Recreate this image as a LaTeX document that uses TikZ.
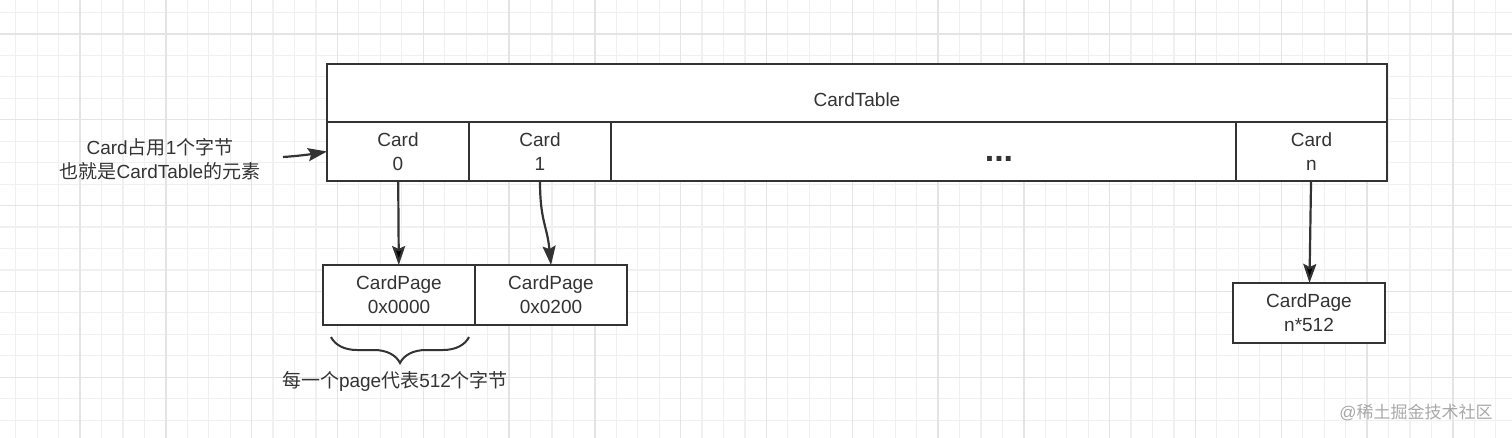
\documentclass[tikz,border=0pt]{standalone}
\usepackage{fontspec}
\setmainfont{Liberation Sans}
\newfontfamily\cjk{Noto Sans CJK SC}
\usetikzlibrary{arrows.meta, positioning, decorations.pathreplacing}

\definecolor{ink}{HTML}{333333}
\definecolor{gridminor}{HTML}{F0F0F0}
\definecolor{gridmajor}{HTML}{E4E4E4}
\definecolor{wmgray}{HTML}{A8A8A8}
\newcommand{\zh}[1]{{\cjk #1}}

\begin{document}
\begin{tikzpicture} [%
    x = 1pt, y = -1pt,
    >= {Stealth[length=19pt, width=13pt, inset=3pt]},
    txt/.style = {%
      font = \fontsize{19pt}{24pt}\selectfont,
      text = ink, align = center },
    tablebox/.style = {%
      draw = ink, fill = white, line width = 2.5pt,
      inner sep = 0pt, outer sep = 0pt,
      minimum width = 1060pt, minimum height = 58pt },
    cell/.style = {%
      txt, draw = ink, fill = white, line width = 2.5pt,
      inner sep = 0pt, outer sep = 0pt,
      minimum height = 59pt },
    pagebox/.style = {%
      txt, draw = ink, fill = white, line width = 2pt,
      inner sep = 0pt, outer sep = 0pt,
      minimum width = 152pt, minimum height = 60pt },
    link/.style = {%
      draw = ink, line width = 2.2pt },
    curly/.style = {%
      draw = ink, line width = 2pt,
      decorate, decoration = {brace, mirror, amplitude = 26pt} },
    watermarktext/.style = {%
      font = \fontsize{17pt}{20pt}\selectfont, text = wmgray }
  ]

\useasboundingbox (0,0) rectangle (1512,438);

% background grid
\begin{scope}[shift={(80,34)}]
  \draw[gridminor, line width=1.2pt, step=21.45pt] (-80,-34) grid (1432,404);
  \draw[gridmajor, line width=1.4pt, step=85.8pt] (-80,-34) grid (1432,404);
\end{scope}

% card table
\node[tablebox, anchor=north west] (table) at (327,64) {};
\node[txt] (tabletitle) at ([yshift=-7pt]table.center) {CardTable};

\node[cell, minimum width=142pt, anchor=north west] (card0) at (table.south west) {Card\\0};
\node[cell, minimum width=142pt, right=0pt of card0] (card1) {Card\\1};
\node[cell, minimum width=625pt, right=0pt of card1] (cardmid) {};
\node[cell, minimum width=151pt, right=0pt of cardmid] (cardn) {Card\\n};
\node[font=\fontsize{34pt}{36pt}\selectfont\bfseries, text=ink] (dots) at (999,159) {...};

% pages
\node[pagebox, anchor=north west] (page0) at (323,265) {CardPage\\0x0000};
\node[pagebox, right=0pt of page0] (page1) {CardPage\\0x0200};
\node[pagebox, anchor=north west] (pagen) at (1233,283) {CardPage\\n*512};

\path[->, link]
(card0) edge (page0)
(cardn) edge (pagen);
\draw[->, link] (card1.south) .. controls +(0,40) and +(-4,-40) .. (page1.north);

% left note
\node[txt] (note) at (160,159) {Card\zh{占用}1\zh{个字节}\\\zh{也就是}CardTable\zh{的元素}};
\coordinate (notetail) at (283,157);
\draw[->, link] (notetail) .. controls +(15,-1) and +(-18,3) .. (card0.west);

% brace under the first page
\draw[curly] ([xshift=8pt, yshift=-12pt]page0.south west) -- ([xshift=-6pt, yshift=-12pt]page0.south east);
\node[txt] (bracenote) at (395,381) {\zh{每一个}page\zh{代表}512\zh{个字节}};

\node[watermarktext] (watermark) at (1416,412) {@\zh{稀土掘金技术社区}};

\end{tikzpicture}
\end{document}
